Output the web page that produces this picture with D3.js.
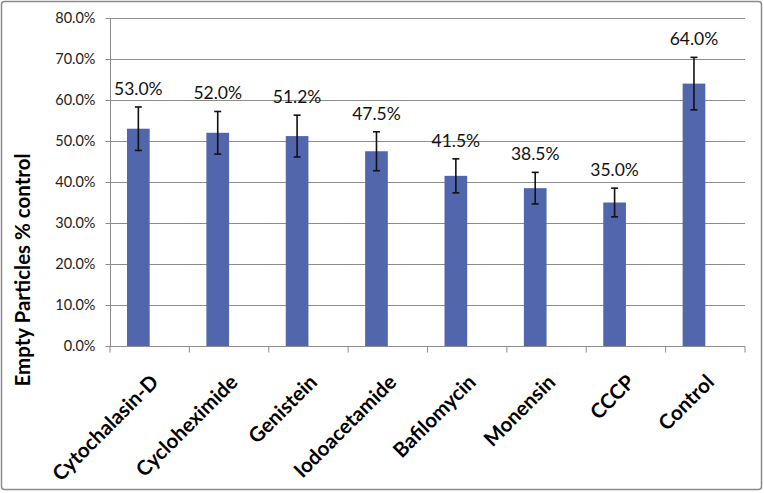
<!DOCTYPE html>
<html>
<head>
<meta charset="utf-8">
<script src="https://cdn.jsdelivr.net/npm/d3@7"></script>
<style>
  body { margin: 0; background: #fff; }
  text { font-family: Lato, "Open Sans", sans-serif; }
</style>
</head>
<body>
<div id="chart"></div>
<script>
// data
const categories = ["Cytochalasin-D", "Cycloheximide", "Genistein", "Iodoacetamide",
                    "Bafilomycin", "Monensin", "CCCP", "Control"];
const values = [53.0, 52.0, 51.2, 47.5, 41.5, 38.5, 35.0, 64.0];
const errors = [5.3, 5.2, 5.1, 4.75, 4.15, 3.85, 3.5, 6.4];
const yTicks = [0, 10, 20, 30, 40, 50, 60, 70, 80];
const yTitle = "Empty Particles % control";

// dim
const W = 764, H = 493;
const margin = {top: 18, right: 19, bottom: 147, left: 110},
    width = W - margin.left - margin.right,
    height = H - margin.top - margin.bottom;

const svg = d3.select("#chart")
  .append("svg")
    .attr("width", W)
    .attr("height", H);

// chart border
svg.append("rect")
  .attr("x", 1.5).attr("y", 1.5)
  .attr("width", W - 4).attr("height", H - 5)
  .attr("rx", 3)
  .attr("fill", "#fff")
  .attr("stroke", "#8a8a8a")
  .attr("stroke-width", 1.5);

const g = svg.append("g")
  .attr("transform", `translate(${margin.left},${margin.top})`);

const x = d3.scaleBand()
  .domain(categories)
  .range([0, width])
  .padding(0);

const y = d3.scaleLinear()
  .domain([0, 80])
  .range([height, 0]);

// excel-like: two series slot, gap width 150%, only first series drawn
const barW = x.bandwidth() / 3.5;
const barOff = x.bandwidth() * 0.75 / 3.5;
const cx = c => x(c) + barOff + barW / 2;

// gridlines
g.append("g")
  .selectAll("line")
  .data(yTicks.filter(t => t > 0))
  .join("line")
    .attr("x1", 0).attr("x2", width)
    .attr("y1", d => Math.round(y(d)) + 0.5)
    .attr("y2", d => Math.round(y(d)) + 0.5)
    .attr("stroke", "#8c8c8c")
    .attr("stroke-width", 1);

// Y axis
const yAxis = g.append("g")
  .attr("transform", "translate(0.5,0)")
  .call(d3.axisLeft(y).tickValues(yTicks).tickSize(5).tickPadding(10)
        .tickFormat(d => d3.format(".1f")(d) + "%"));
yAxis.selectAll("line, path").attr("stroke", "#8c8c8c");
yAxis.select(".domain").attr("d", `M0,0V${height}`);
yAxis.selectAll("text")
  .attr("font-family", "Lato, 'Open Sans', sans-serif")
  .attr("font-size", 14.5)
  .attr("fill", "#222");

// X axis
const xAxis = g.append("g")
  .attr("transform", `translate(0,${Math.round(height) + 0.5})`);
xAxis.append("line")
  .attr("x1", 0).attr("x2", width)
  .attr("stroke", "#8c8c8c");
xAxis.selectAll(".tk")
  .data(categories.map(c => x(c)).concat([width]))
  .join("line")
    .attr("class", "tk")
    .attr("x1", d => d).attr("x2", d => d)
    .attr("y1", 0).attr("y2", 6)
    .attr("stroke", "#8c8c8c");

xAxis.selectAll("text")
  .data(categories)
  .join("text")
    .attr("transform", d => `translate(${x(d) + x.bandwidth() / 2 + 10},37) rotate(-45)`)
    .attr("text-anchor", "end")
    .attr("font-size", 20.5)
    .attr("font-weight", "bold")
    .attr("fill", "#000")
    .text(d => d);

// bars
g.append("g")
  .selectAll("rect")
  .data(categories)
  .join("rect")
    .attr("x", (d) => x(d) + barOff)
    .attr("y", (d, i) => y(values[i]))
    .attr("width", barW)
    .attr("height", (d, i) => y(0) - y(values[i]))
    .attr("fill", "#5166ad");

// error bars
const eb = g.append("g")
  .attr("stroke", "#111")
  .attr("stroke-width", 1.6);
categories.forEach((c, i) => {
  const yt = y(values[i] + errors[i]), yb = y(values[i] - errors[i]);
  eb.append("line").attr("x1", cx(c)).attr("x2", cx(c)).attr("y1", yt).attr("y2", yb);
  eb.append("line").attr("x1", cx(c) - 3.5).attr("x2", cx(c) + 3.5).attr("y1", yt).attr("y2", yt);
  eb.append("line").attr("x1", cx(c) - 3.5).attr("x2", cx(c) + 3.5).attr("y1", yb).attr("y2", yb);
});

// value labels
g.append("g")
  .selectAll("text")
  .data(categories)
  .join("text")
    .attr("x", d => cx(d))
    .attr("y", (d, i) => y(values[i] + errors[i]) - 12)
    .attr("text-anchor", "middle")
    .attr("font-size", 17.5)
    .attr("fill", "#111")
    .text((d, i) => d3.format(".1f")(values[i]) + "%");

// Y axis title
svg.append("text")
  .attr("transform", "translate(30,270) rotate(-90)")
  .attr("text-anchor", "middle")
  .attr("font-size", 20.5)
  .attr("font-weight", "bold")
  .attr("fill", "#000")
  .text(yTitle);
</script>
</body>
</html>
